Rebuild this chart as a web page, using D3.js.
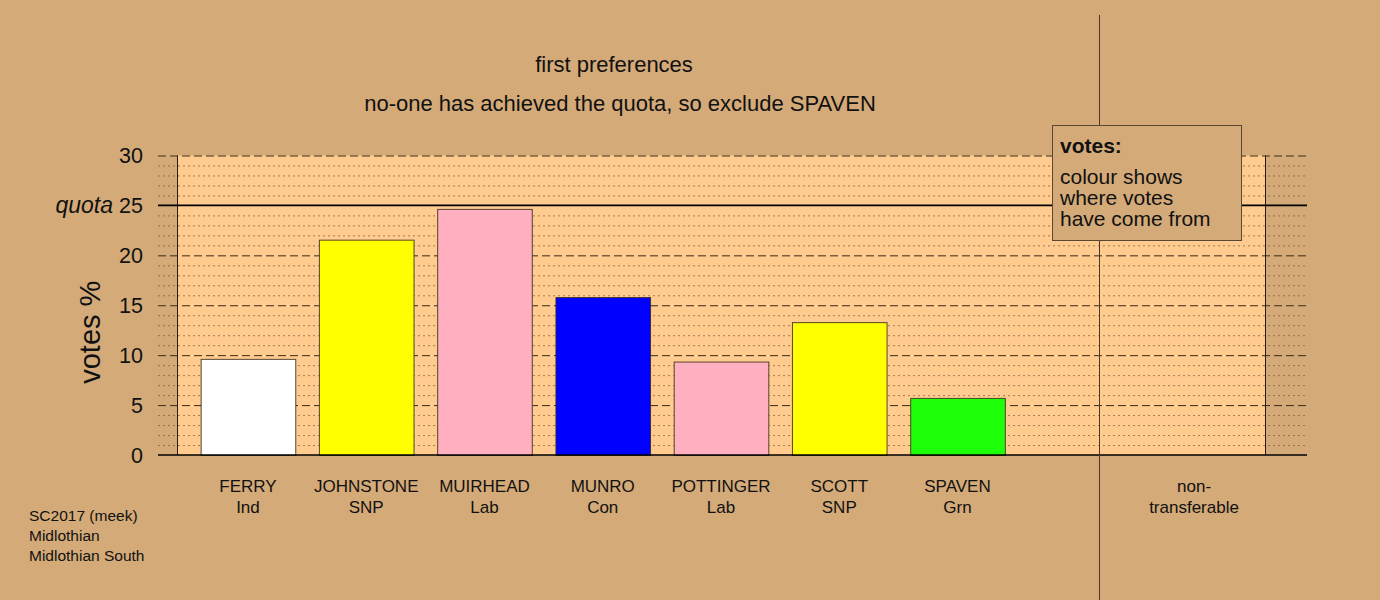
<!DOCTYPE html>
<html>
<head>
<meta charset="utf-8">
<script src="https://cdn.jsdelivr.net/npm/d3@7"></script>
<style>
  html, body { margin: 0; padding: 0; background: #D4AA78; }
  svg { display: block; font-family: "Liberation Sans", Arial, sans-serif; }
</style>
</head>
<body>
<svg id="chart" width="1380" height="600"></svg>
<script>
// ---- data ----
const candidates = ["FERRY", "JOHNSTONE", "MUIRHEAD", "MUNRO", "POTTINGER", "SCOTT", "SPAVEN", "", "non-"];
const parties    = ["Ind", "SNP", "Lab", "Con", "Lab", "SNP", "Grn", "", "transferable"];
const votes      = [9.63, 21.57, 24.65, 15.82, 9.36, 13.31, 5.72, null, 0];
const barColours = ["#FFFFFF", "#FFFF00", "#FFB0C0", "#0000FF", "#FFB0C0", "#FFFF00", "#1EFF0A", null, null];
const yTicks     = [0, 5, 10, 15, 20, 25, 30];
const quota      = 25;
const titles     = ["first preferences", "no-one has achieved the quota, so exclude SPAVEN"];
const legendLines = ["colour shows", "where votes", "have come from"];
const footnote   = ["SC2017 (meek)", "Midlothian", "Midlothian South"];

// ---- layout ----
const svg = d3.select("#chart");
const W = 1380, H = 600;
const bg = "#D4AA78", panel = "#FFCB8E";
svg.append("rect").attr("width", W).attr("height", H).attr("fill", bg);

const panelL = 177, panelR = 1265, gridL = 158, gridR = 1307;
const y = d3.scaleLinear().domain([0, 30]).range([455, 155.5]);
const x = d3.scaleBand().domain(d3.range(candidates.length))
  .range([panelL, panelR]).paddingInner(0.2).paddingOuter(0.2);

// panel
svg.append("rect").attr("x", panelL).attr("y", y(30))
  .attr("width", panelR - panelL).attr("height", y(0) - y(30)).attr("fill", panel);

// dotted minor gridlines
const minor = d3.range(1, 30).filter(v => v % 5 !== 0);
svg.append("g").selectAll("line").data(minor).join("line")
  .attr("x1", gridL).attr("x2", gridR)
  .attr("y1", d => y(d) + 0.5).attr("y2", d => y(d) + 0.5)
  .attr("stroke", "#7a5a3a").attr("stroke-width", 1)
  .attr("stroke-dasharray", "2,3").attr("opacity", 0.7);

// dashed major gridlines
svg.append("g").selectAll("line").data(yTicks.filter(v => v !== 0 && v !== quota)).join("line")
  .attr("x1", gridL).attr("x2", gridR)
  .attr("y1", d => y(d) + 0.5).attr("y2", d => y(d) + 0.5)
  .attr("stroke", "#3a2a18").attr("stroke-width", 1)
  .attr("stroke-dasharray", "8,4");

// panel side borders
[panelL, panelR].forEach(px => {
  svg.append("line").attr("x1", px + 0.5).attr("x2", px + 0.5)
    .attr("y1", y(30)).attr("y2", y(0))
    .attr("stroke", "#2a1a0a").attr("stroke-width", 1);
});

// quota line
svg.append("line").attr("x1", gridL).attr("x2", gridR)
  .attr("y1", y(quota)).attr("y2", y(quota))
  .attr("stroke", "#000").attr("stroke-width", 1.6);

// bars
svg.append("g").selectAll("rect")
  .data(votes.map((v, i) => ({ v, i })).filter(d => d.v !== null && barColours[d.i]))
  .join("rect")
  .attr("x", d => x(d.i) + 0.5)
  .attr("y", d => y(d.v) + 0.5)
  .attr("width", x.bandwidth())
  .attr("height", d => y(0) - y(d.v))
  .attr("fill", d => barColours[d.i])
  .attr("stroke", "#3a2a1a").attr("stroke-opacity", 0.85).attr("stroke-width", 1);

// baseline
svg.append("line").attr("x1", gridL).attr("x2", gridR)
  .attr("y1", y(0)).attr("y2", y(0))
  .attr("stroke", "#000").attr("stroke-width", 1.6);

// separator line
const sepX = x(7) + x.bandwidth() * 0.75;
svg.append("line").attr("x1", Math.round(sepX) + 0.5).attr("x2", Math.round(sepX) + 0.5)
  .attr("y1", 15).attr("y2", H)
  .attr("stroke", "#4a3824").attr("stroke-width", 1);

// y tick labels
svg.append("g").selectAll("text").data(yTicks).join("text")
  .attr("x", 143).attr("y", d => y(d)).attr("dy", "0.35em")
  .attr("text-anchor", "end").attr("font-size", 21.5).attr("fill", "#111")
  .text(d => d);

svg.append("text").attr("x", 113).attr("y", y(quota)).attr("dy", "0.35em")
  .attr("text-anchor", "end").attr("font-size", 23).attr("font-style", "italic")
  .attr("fill", "#111").text("quota");

// y axis label
svg.append("text")
  .attr("transform", `translate(100, ${y(12.3)}) rotate(-90)`)
  .attr("text-anchor", "middle").attr("font-size", 29).attr("fill", "#111")
  .text("votes %");

// category labels
const catG = svg.append("g");
candidates.forEach((c, i) => {
  const cx = x(i) + x.bandwidth() / 2;
  catG.append("text").attr("x", cx).attr("y", 492).attr("text-anchor", "middle")
    .attr("font-size", 17).attr("fill", "#111").text(c);
  catG.append("text").attr("x", cx).attr("y", 512.5).attr("text-anchor", "middle")
    .attr("font-size", 17).attr("fill", "#111").text(parties[i]);
});

// titles
svg.append("text").attr("x", 614).attr("y", 72).attr("text-anchor", "middle")
  .attr("font-size", 22).attr("fill", "#111").text(titles[0]);
svg.append("text").attr("x", 620).attr("y", 111).attr("text-anchor", "middle")
  .attr("font-size", 22).attr("fill", "#111").text(titles[1]);

// legend box
svg.append("rect").attr("x", 1052.5).attr("y", 125.5).attr("width", 189).attr("height", 115)
  .attr("fill", bg).attr("stroke", "#5a4632").attr("stroke-width", 1);
svg.append("text").attr("x", 1060).attr("y", 153).attr("font-size", 21)
  .attr("font-weight", "bold").attr("fill", "#111").text("votes:");
legendLines.forEach((t, i) => {
  svg.append("text").attr("x", 1060).attr("y", 184 + i * 21).attr("font-size", 21)
    .attr("fill", "#111").text(t);
});

// footnote
footnote.forEach((t, i) => {
  svg.append("text").attr("x", 29).attr("y", 521 + i * 20).attr("font-size", 15.5)
    .attr("fill", "#111").text(t);
});
</script>
</body>
</html>
